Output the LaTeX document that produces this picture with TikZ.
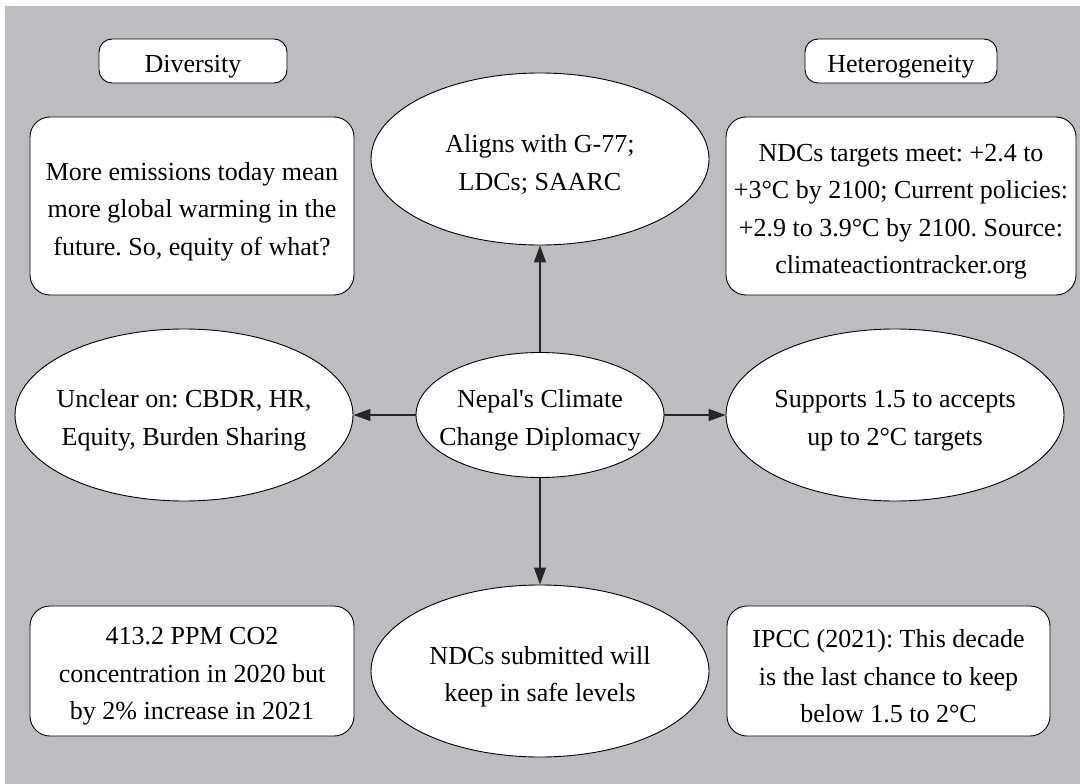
\documentclass[tikz,border=0pt]{standalone}
\usepackage{fontspec}
\setmainfont{Liberation Serif}
\usetikzlibrary{shapes.geometric,arrows.meta}
\definecolor{panel}{RGB}{188,189,192}
\frenchspacing
\tikzset{
  txt/.style={font=\fontsize{26}{37.5}\selectfont, align=center, text=black, inner sep=0pt, yshift=-5.5pt},
  oval/.style={ellipse, draw=black, line width=0.9pt, fill=white, minimum width=338pt, minimum height=172pt, inner sep=0pt},
  rbox/.style={rectangle, rounded corners=20pt, draw=black, line width=0.9pt, fill=white, inner sep=0pt},
  tag/.style={rectangle, rounded corners=13pt, draw=black, line width=0.9pt, fill=white, inner sep=0pt, minimum height=44pt},
  arr/.style={draw=black!85, line width=1.2pt, -{Triangle[length=17pt,width=12pt]}}
}
\begin{document}
\begin{tikzpicture}[x=1pt,y=-1pt]
\useasboundingbox (0,0) rectangle (1080,784);
\fill[white] (0,0) rectangle (1080,784);
\fill[panel] (5,6) rectangle (1080,784);

\node[tag, minimum width=188pt] (div) at (193,61) {};
\node[txt] (divT) at (div) {Diversity};
\node[tag, minimum width=192pt] (het) at (901,61) {};
\node[txt] (hetT) at (het) {Heterogeneity};

\node[rbox, minimum width=324pt, minimum height=178pt] (tl) at (192,206) {};
\node[txt] (tlT) at (tl) {More emissions today mean\\more global warming in the\\future. So, equity of what?};
\node[rbox, minimum width=350pt, minimum height=178pt] (tr) at (901,206) {};
\node[txt] (trT) at (tr) {NDCs targets meet: +2.4 to\\+3°C by 2100; Current policies:\\+2.9 to 3.9°C by 2100. Source:\\climateactiontracker.org};

\node[oval] (top) at (540,159) {};
\node[txt] (topT) at (top) {Aligns with G-77;\\LDCs; SAARC};
\node[oval, minimum width=248pt, minimum height=125pt] (c) at (540,415) {};
\node[txt] (cT) at (c) {Nepal\textquotesingle s Climate\\Change Diplomacy};
\node[oval] (left) at (184,415) {};
\node[txt] (leftT) at (left) {Unclear on: CBDR, HR,\\Equity, Burden Sharing};
\node[oval] (right) at (895,415) {};
\node[txt] (rightT) at (right) {Supports 1.5 to accepts\\up to 2°C targets};
\node[oval] (bot) at (540,671) {};
\node[txt] (botT) at (bot) {NDCs submitted will\\keep in safe levels};

\node[rbox, minimum width=324pt, minimum height=130pt] (bl) at (192,671) {};
\node[txt] (blT) at (bl) {413.2 PPM CO2\\concentration in 2020 but\\by 2\% increase in 2021};
\node[rbox, minimum width=323pt, minimum height=130pt] (br) at (888.5,671) {};
\node[txt] (brT) at (br) {IPCC (2021): This decade\\is the last chance to keep\\below 1.5 to 2°C};

\draw[arr] (c) -- (top);
\draw[arr] (c) -- (left);
\draw[arr] (c) -- (right);
\draw[arr] (c) -- (bot);
\end{tikzpicture}
\end{document}
